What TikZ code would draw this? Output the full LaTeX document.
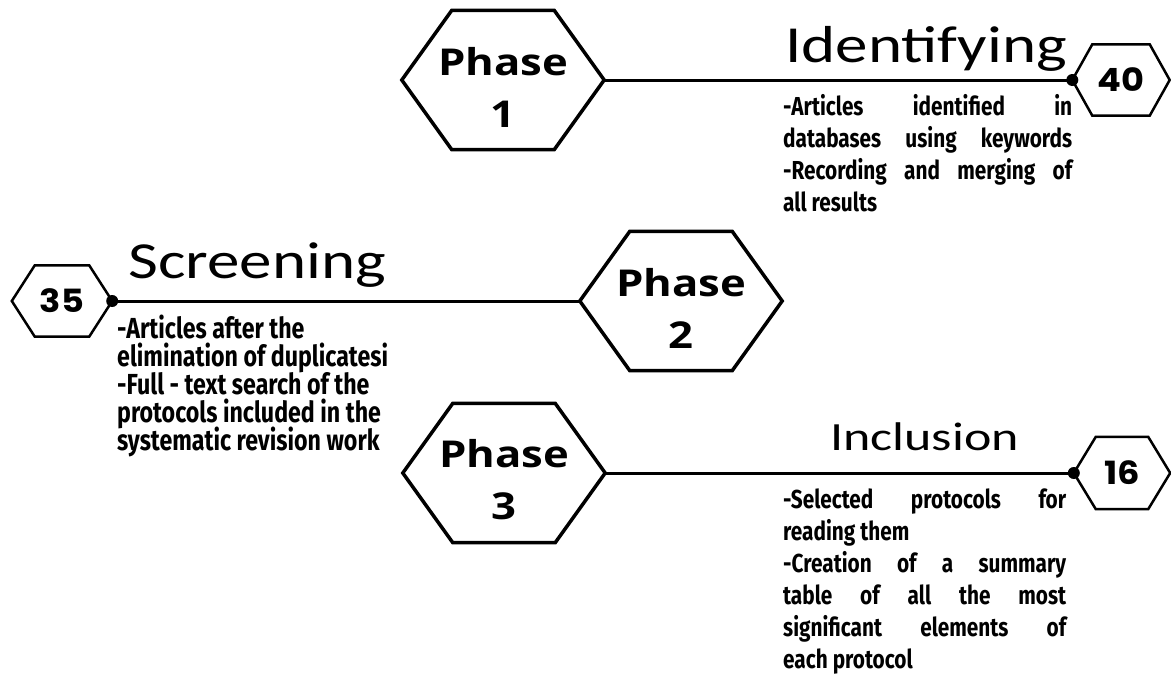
\documentclass[tikz,border=0pt]{standalone}
\usepackage{fontspec}
\newfontfamily\phasefont{Open Sans}[FakeStretch=1.18]
\newfontfamily\numfont{Poppins}[FakeStretch=1.1]
\newfontfamily\titlefont{Carlito}[FakeStretch=1.25]
\newfontfamily\titlefontb{Carlito}[FakeStretch=1.3]
\newfontfamily\descfont{Fira Sans}[FakeStretch=0.8]
\newcommand{\hexdraw}[3]{\draw[#3] (#1.west) -- ([xshift=#2]#1.north west) -- ([xshift=-#2]#1.north east) -- (#1.east) -- ([xshift=-#2]#1.south east) -- ([xshift=#2]#1.south west) -- cycle;}
\newcommand{\jline}[2]{\makebox[#1][s]{#2}}
\newcommand{\tightlines}{\lineskiplimit=-20pt\relax\lineskip=0pt\relax}
\begin{document}
\begin{tikzpicture}[x=1pt,y=-1pt,
  phasebox/.style={inner sep=0pt, minimum width=202pt, minimum height=139pt},
  numbox/.style={inner sep=0pt, minimum width=97pt, minimum height=71pt, font=\numfont\bfseries\fontsize{32}{34}\selectfont},
  phasetxt/.style={inner sep=0pt, align=center, font=\phasefont\bfseries\fontsize{37}{52}\selectfont},
  hexline/.style={line width=3.5pt, line join=miter},
  smallhex/.style={line width=2.5pt, line join=miter},
  conn/.style={line width=3pt},
  titlebig/.style={inner sep=0pt, anchor=base west, font=\titlefont\fontsize{52}{60}\selectfont},
  titlesmall/.style={inner sep=0pt, anchor=base west, font=\titlefontb\fontsize{40}{48}\selectfont},
  descA/.style={inner sep=0pt, anchor=base west, align=left, font=\descfont\bfseries\fontsize{26}{32}\selectfont\tightlines},
  descB/.style={inner sep=0pt, anchor=base west, align=left, font=\descfont\bfseries\fontsize{29}{28}\selectfont\tightlines},
  dotmark/.style={fill=black}
]
\useasboundingbox (0,0) rectangle (1171,675);
\fill[white] (0,0) rectangle (1171,675);

% phase hexagons
\node[phasebox] (p1) at (503,80) {};
\node[phasebox] (p2) at (681,301) {};
\node[phasebox] (p3) at (504,473) {};
\hexdraw{p1}{50pt}{hexline}
\hexdraw{p2}{50pt}{hexline}
\hexdraw{p3}{50pt}{hexline}
\node[phasetxt] (p1t) at ([yshift=-7pt]p1.center) {Phase\\1};
\node[phasetxt] (p2t) at ([yshift=-7pt]p2.center) {Phase\\2};
\node[phasetxt] (p3t) at ([yshift=-7pt]p3.center) {Phase\\3};

% number hexagons
\node[numbox] (h40) at (1121,80) {40};
\node[numbox, minimum width=100pt] (h35) at (62,301) {35};
\node[numbox, minimum width=96pt, minimum height=72pt] (h16) at (1122,473) {16};
\hexdraw{h40}{20pt}{smallhex}
\hexdraw{h35}{23pt}{smallhex}
\hexdraw{h16}{22pt}{smallhex}

% connectors
\draw[conn] (p1.east) -- (h40.west);
\draw[conn] (h35.east) -- (p2.west);
\draw[conn] (p3.east) -- (h16.west);
\fill[dotmark] (h40.west) circle (6pt);
\fill[dotmark] (h35.east) circle (6pt);
\fill[dotmark] (h16.west) circle (6pt);

% titles
\node[titlebig] (t1) at (785,62) {Identifying};
\node[titlebig] (t2) at (128,278) {Screening};
\node[titlesmall] (t3) at (830,450) {Inclusion};

% descriptions (anchored at the baseline of their last line)
\node[descA] (d1) at (783,211) {\jline{289pt}{-Articles identified in}\\
\jline{289pt}{databases using keywords}\\
\jline{289pt}{-Recording and merging of}\\
all results};
\node[descB] (d2) at (117,450) {-Articles after the\\
elimination of duplicatesi\\
-Full - text search of the\\
protocols included in the\\
systematic revision work};
\node[descA] (d3) at (783,668) {\jline{283pt}{-Selected protocols for}\\
reading them\\
\jline{283pt}{-Creation of a summary}\\
\jline{283pt}{table of all the most}\\
\jline{283pt}{significant elements of}\\
each protocol};
\end{tikzpicture}
\end{document}
